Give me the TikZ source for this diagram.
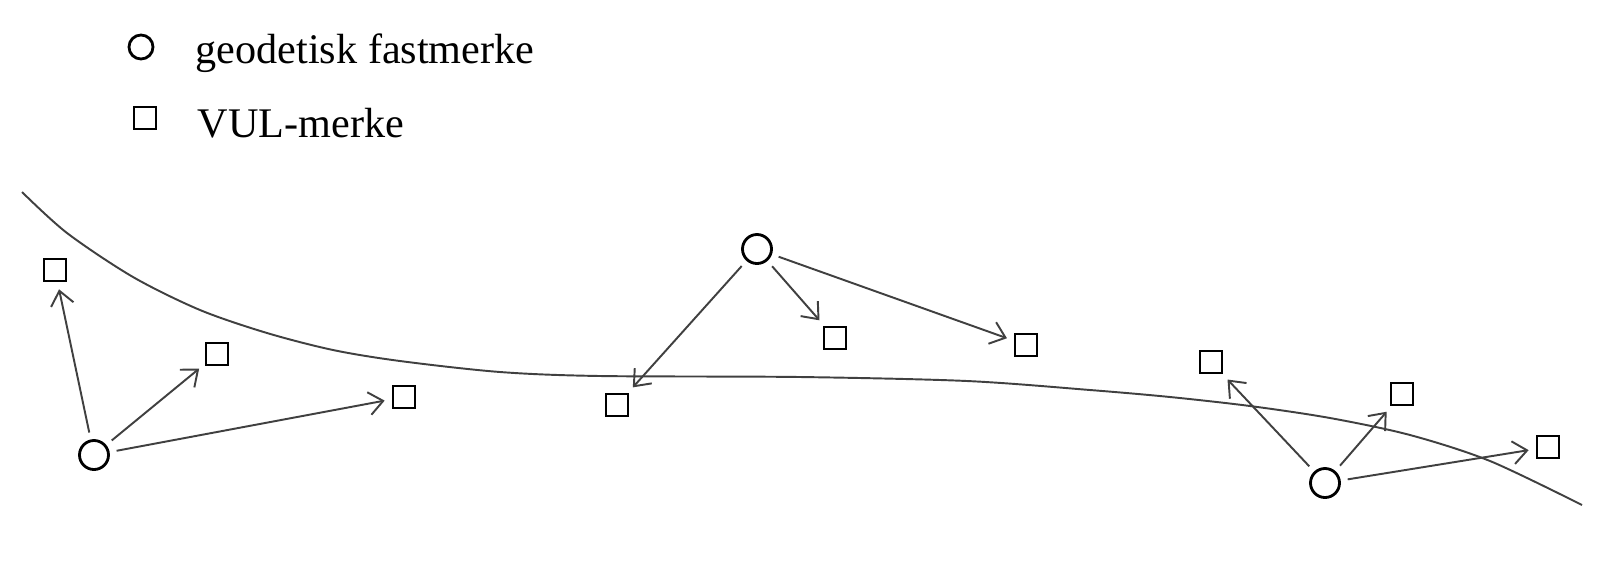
\documentclass[tikz,border=0pt]{standalone}
\usepackage{fontspec}
\setmainfont{Liberation Serif}
\usetikzlibrary{arrows.meta}
\begin{document}
\begin{tikzpicture}[x=0.01cm, y=-0.01cm,
	fast/.style={draw=black, line width=0.8pt, circle, inner sep=0, minimum size=0.29cm},
	vul/.style={draw=black, line width=0.8pt, rectangle, inner sep=0, minimum size=0.22cm},
	pil/.style={draw=black!75, line width=0.55pt, -{Straight Barb[length=4pt,width=6.5pt]}, shorten <=2pt, shorten >=2pt},
	tekst/.style={anchor=base west, inner sep=0, font=\fontsize{12}{14}\selectfont}]
	\useasboundingbox (0,0) rectangle (1600,560);
	% legend
	\node[fast, minimum size=0.24cm] (lfast) at (141,47) {};
	\node[tekst] (tfast) at (195,63) {geodetisk fastmerke};
	\node[vul] (lvul) at (145,118) {};
	\node[tekst] (tvul) at (197,137) {VUL-merke};
	% curve
	\draw[black!75, line width=0.55pt] plot[smooth, tension=0.5] coordinates {(22,192) (67,233) (133,277) (200,310) (267,333) (333,350) (400,361) (500,372) (600,376) (800,377) (967,381) (1090,390) (1170,397) (1250,406) (1330,418) (1410,435) (1490,461) (1582,505)};
	% marks
	\node[fast] (fm1) at (94,455) {};
	\node[fast] (fm2) at (757,249) {};
	\node[fast] (fm3) at (1325,483) {};
	\node[vul] (v1) at (55,270) {};
	\node[vul] (v2) at (217,354) {};
	\node[vul] (v3) at (404,397) {};
	\node[vul] (v4) at (617,405) {};
	\node[vul] (v5) at (835,338) {};
	\node[vul] (v6) at (1026,345) {};
	\node[vul] (v7) at (1211,362) {};
	\node[vul] (v8) at (1402,394) {};
	\node[vul] (v9) at (1548,447) {};
	% arrows
	\draw[pil] (fm1) -- (v1);
	\draw[pil] (fm1) -- (v2);
	\draw[pil] (fm1) -- (v3);
	\draw[pil] (fm2) -- (v4);
	\draw[pil] (fm2) -- (v5);
	\draw[pil] (fm2) -- (v6);
	\draw[pil] (fm3) -- (v7);
	\draw[pil] (fm3) -- (v8);
	\draw[pil] (fm3) -- (v9);
\end{tikzpicture}
\end{document}
